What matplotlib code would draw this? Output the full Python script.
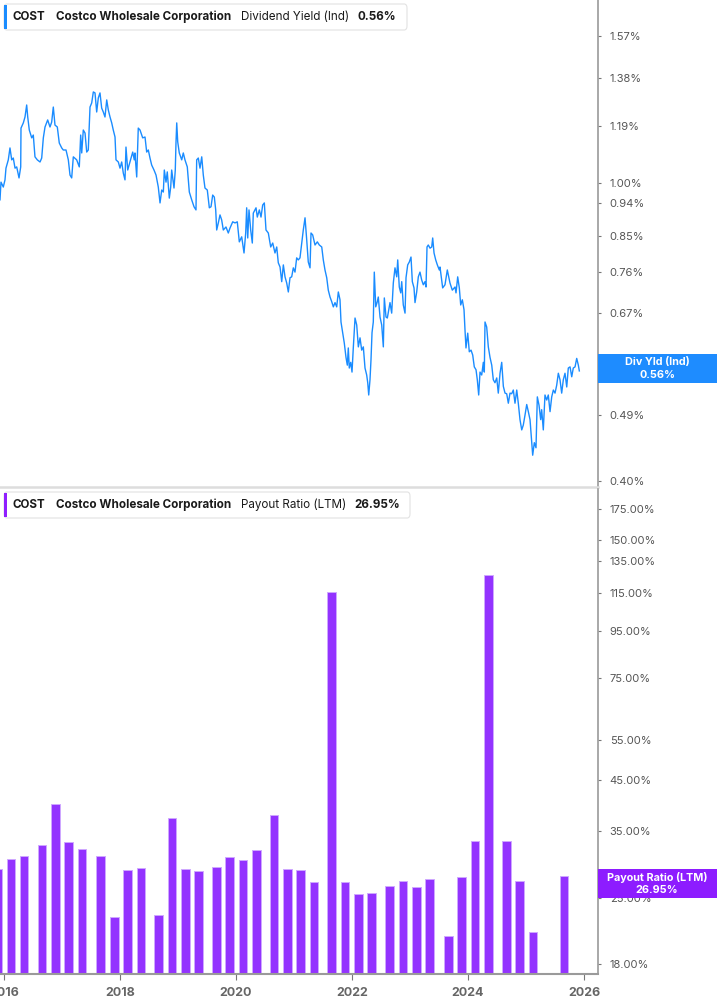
import matplotlib
matplotlib.use("Agg")
import matplotlib.pyplot as plt
from matplotlib.patches import FancyBboxPatch, Rectangle
from matplotlib.ticker import FixedLocator, NullLocator, FuncFormatter

plt.rcParams['font.family'] = ['Inter', 'DejaVu Sans']

# ---------------- data ----------------
ticker = "COST"
company = "Costco Wholesale Corporation"
yield_name = "Dividend Yield (Ind)"
yield_last = "0.56%"
payout_name = "Payout Ratio (LTM)"
payout_last = "26.95%"

# Dividend yield (%), dates as decimal years
yield_dates = [
    2015.931, 2015.948, 2015.988, 2016.017, 2016.034, 2016.074, 2016.103, 2016.133, 2016.160, 2016.190,
    2016.219, 2016.259, 2016.288, 2016.293, 2016.333, 2016.362, 2016.391, 2016.409, 2016.436, 2016.478,
    2016.505, 2016.534, 2016.574, 2016.621, 2016.650, 2016.678, 2016.707, 2016.753, 2016.793, 2016.822,
    2016.850, 2016.879, 2016.919, 2016.953, 2016.995, 2017.022, 2017.069, 2017.109, 2017.138, 2017.167,
    2017.195, 2017.253, 2017.298, 2017.322, 2017.340, 2017.367, 2017.397, 2017.426, 2017.453, 2017.483,
    2017.512, 2017.540, 2017.569, 2017.598, 2017.626, 2017.655, 2017.684, 2017.712, 2017.741, 2017.771,
    2017.798, 2017.828, 2017.857, 2017.884, 2017.914, 2017.931, 2017.971, 2018.000, 2018.029, 2018.057,
    2018.086, 2018.103, 2018.133, 2018.172, 2018.219, 2018.246, 2018.258, 2018.288, 2018.315, 2018.345,
    2018.391, 2018.431, 2018.460, 2018.488, 2018.517, 2018.546, 2018.586, 2018.621, 2018.660, 2018.690,
    2018.719, 2018.747, 2018.764, 2018.793, 2018.815, 2018.850, 2018.874, 2018.891, 2018.931, 2018.953,
    2018.965, 2018.978, 2018.995, 2019.022, 2019.064, 2019.091, 2019.120, 2019.160, 2019.195, 2019.236,
    2019.276, 2019.310, 2019.322, 2019.350, 2019.379, 2019.409, 2019.436, 2019.465, 2019.505, 2019.540,
    2019.569, 2019.598, 2019.626, 2019.650, 2019.667, 2019.695, 2019.724, 2019.753, 2019.781, 2019.827,
    2019.867, 2019.896, 2019.943, 2019.983, 2020.022, 2020.057, 2020.098, 2020.138, 2020.167, 2020.184,
    2020.202, 2020.224, 2020.253, 2020.281, 2020.298, 2020.345, 2020.367, 2020.402, 2020.431, 2020.460,
    2020.488, 2020.517, 2020.557, 2020.598, 2020.633, 2020.672, 2020.702, 2020.729, 2020.759, 2020.788,
    2020.816, 2020.845, 2020.874, 2020.902, 2020.931, 2020.960, 2020.988, 2021.017, 2021.046, 2021.074,
    2021.103, 2021.160, 2021.190, 2021.219, 2021.246, 2021.276, 2021.293, 2021.322, 2021.362, 2021.402,
    2021.436, 2021.478, 2021.505, 2021.534, 2021.564, 2021.591, 2021.621, 2021.650, 2021.678, 2021.707,
    2021.736, 2021.764, 2021.793, 2021.810, 2021.840, 2021.867, 2021.896, 2021.919, 2021.936, 2021.953,
    2021.978, 2022.000, 2022.022, 2022.052, 2022.081, 2022.109, 2022.138, 2022.167, 2022.195, 2022.224,
    2022.253, 2022.271, 2022.288, 2022.310, 2022.327, 2022.345, 2022.367, 2022.384, 2022.409, 2022.436,
    2022.453, 2022.483, 2022.512, 2022.540, 2022.557, 2022.586, 2022.609, 2022.633, 2022.655, 2022.684,
    2022.712, 2022.741, 2022.771, 2022.788, 2022.815, 2022.840, 2022.857, 2022.884, 2022.914, 2022.931,
    2022.960, 2022.988, 2023.017, 2023.040, 2023.069, 2023.086, 2023.115, 2023.143, 2023.172, 2023.201,
    2023.229, 2023.258, 2023.276, 2023.293, 2023.315, 2023.345, 2023.374, 2023.391, 2023.414, 2023.443,
    2023.471, 2023.505, 2023.517, 2023.563, 2023.603, 2023.643, 2023.689, 2023.729, 2023.776, 2023.793,
    2023.822, 2023.850, 2023.874, 2023.902, 2023.931, 2023.948, 2023.965, 2023.995, 2024.022, 2024.052,
    2024.081, 2024.108, 2024.138, 2024.160, 2024.184, 2024.207, 2024.236, 2024.264, 2024.281, 2024.293,
    2024.322, 2024.350, 2024.379, 2024.409, 2024.436, 2024.465, 2024.495, 2024.522, 2024.552, 2024.581,
    2024.609, 2024.638, 2024.667, 2024.695, 2024.724, 2024.753, 2024.781, 2024.810, 2024.840, 2024.867,
    2024.896, 2024.926, 2024.953, 2024.983, 2025.012, 2025.040, 2025.069, 2025.086, 2025.115, 2025.143,
    2025.172, 2025.195, 2025.224, 2025.253, 2025.270, 2025.298, 2025.327, 2025.357, 2025.384, 2025.414,
    2025.443, 2025.471, 2025.500, 2025.529, 2025.557, 2025.586, 2025.615, 2025.643, 2025.672, 2025.702,
    2025.729, 2025.759, 2025.788, 2025.815, 2025.845, 2025.874, 2025.902, 2025.919,
]
yield_values = [
    0.949, 1.002, 0.987, 1.009, 1.046, 1.073, 1.113, 1.073, 1.079, 1.046,
    1.050, 1.015, 1.050, 1.183, 1.202, 1.224, 1.270, 1.224, 1.176, 1.148,
    1.158, 1.083, 1.073, 1.066, 1.079, 1.148, 1.187, 1.213, 1.187, 1.205,
    1.262, 1.194, 1.187, 1.130, 1.113, 1.106, 1.106, 1.073, 1.024, 1.015,
    1.083, 1.073, 1.050, 1.158, 1.096, 1.176, 1.165, 1.099, 1.106, 1.262,
    1.278, 1.322, 1.318, 1.243, 1.298, 1.318, 1.258, 1.243, 1.224, 1.290,
    1.251, 1.224, 1.202, 1.176, 1.151, 1.073, 1.066, 1.046, 1.066, 1.030,
    1.009, 1.116, 1.040, 1.066, 1.099, 1.073, 1.096, 1.018, 1.183, 1.176,
    1.148, 1.151, 1.099, 1.106, 1.079, 1.056, 1.040, 1.024, 0.987, 0.940,
    0.978, 0.972, 1.040, 1.002, 1.034, 0.954, 0.987, 1.040, 0.984, 1.040,
    1.130, 1.202, 1.134, 1.096, 1.073, 1.096, 1.073, 1.050, 0.972, 0.949,
    0.929, 0.920, 1.073, 1.079, 1.046, 1.083, 1.024, 0.984, 0.978, 0.926,
    0.929, 0.963, 0.957, 0.920, 0.865, 0.884, 0.906, 0.892, 0.865, 0.873,
    0.857, 0.870, 0.887, 0.884, 0.887, 0.834, 0.847, 0.806, 0.857, 0.926,
    0.844, 0.920, 0.865, 0.831, 0.911, 0.926, 0.900, 0.920, 0.900, 0.934,
    0.940, 0.865, 0.857, 0.821, 0.831, 0.806, 0.821, 0.782, 0.772, 0.738,
    0.777, 0.749, 0.735, 0.715, 0.747, 0.749, 0.770, 0.760, 0.794, 0.789,
    0.794, 0.865, 0.898, 0.839, 0.784, 0.770, 0.857, 0.852, 0.826, 0.834,
    0.826, 0.821, 0.789, 0.765, 0.747, 0.719, 0.704, 0.694, 0.683, 0.692,
    0.683, 0.715, 0.698, 0.652, 0.630, 0.611, 0.585, 0.571, 0.602, 0.566,
    0.576, 0.559, 0.602, 0.660, 0.646, 0.604, 0.621, 0.598, 0.604, 0.566,
    0.554, 0.541, 0.521, 0.546, 0.580, 0.631, 0.652, 0.760, 0.683, 0.694,
    0.704, 0.662, 0.646, 0.604, 0.702, 0.662, 0.660, 0.677, 0.692, 0.670,
    0.735, 0.770, 0.749, 0.789, 0.726, 0.713, 0.738, 0.687, 0.670, 0.747,
    0.777, 0.784, 0.796, 0.738, 0.724, 0.692, 0.715, 0.749, 0.760, 0.742,
    0.731, 0.738, 0.726, 0.821, 0.826, 0.818, 0.821, 0.844, 0.806, 0.789,
    0.777, 0.765, 0.772, 0.724, 0.731, 0.765, 0.735, 0.719, 0.726, 0.713,
    0.749, 0.724, 0.687, 0.698, 0.677, 0.636, 0.602, 0.630, 0.595, 0.598,
    0.589, 0.568, 0.563, 0.546, 0.521, 0.559, 0.554, 0.576, 0.559, 0.652,
    0.642, 0.604, 0.585, 0.571, 0.546, 0.541, 0.549, 0.524, 0.557, 0.576,
    0.535, 0.524, 0.523, 0.508, 0.524, 0.523, 0.529, 0.508, 0.529, 0.508,
    0.483, 0.468, 0.475, 0.490, 0.506, 0.495, 0.483, 0.464, 0.433, 0.450,
    0.443, 0.518, 0.505, 0.483, 0.498, 0.468, 0.521, 0.513, 0.521, 0.495,
    0.518, 0.529, 0.524, 0.537, 0.557, 0.546, 0.524, 0.546, 0.557, 0.534,
    0.566, 0.568, 0.551, 0.566, 0.568, 0.583, 0.571, 0.561,
]

# Payout ratio (LTM, %) at fiscal quarter ends (decimal years)
payout_dates = [
    2015.893, 2016.121, 2016.345, 2016.655, 2016.888, 2017.112, 2017.345, 2017.664,
    2017.905, 2018.129, 2018.362, 2018.664, 2018.897, 2019.129, 2019.353, 2019.664,
    2019.888, 2020.121, 2020.353, 2020.655, 2020.888, 2021.112, 2021.345, 2021.647,
    2021.879, 2022.112, 2022.336, 2022.647, 2022.879, 2023.112, 2023.336, 2023.664,
    2023.888, 2024.121, 2024.353, 2024.664, 2024.888, 2025.121, 2025.655,
]
payout_values = [
    27.9, 29.4, 29.9, 31.6, 38.9, 32.1, 31.0, 29.8,
    21.7, 27.7, 28.0, 21.9, 36.3, 27.9, 27.6, 28.2,
    29.6, 29.2, 30.7, 36.8, 27.9, 27.8, 26.1, 114.3,
    26.1, 24.5, 24.6, 25.5, 26.2, 25.4, 26.5, 19.7,
    26.8, 32.3, 125.1, 32.2, 26.2, 20.1, 26.95,
]

yield_ticks = [0.40, 0.49, 0.58, 0.67, 0.76, 0.85, 0.94, 1.00, 1.19, 1.38, 1.57]
payout_ticks = [18, 25, 35, 45, 55, 75, 95, 115, 135, 150, 175]
year_ticks = [2016, 2018, 2020, 2022, 2024, 2026]

# ---------------- style ----------------
W, H = 717, 1005
BLUE = '#1a8cff'
PURPLE = '#9333ff'
AXIS = '#9a9a9a'
TXT = '#555555'

fig = plt.figure(figsize=(W / 100, H / 100), dpi=100)
fig.patch.set_facecolor('white')


def fy(py):
    return 1 - py / H


ax1 = fig.add_axes([0, fy(487), 598 / W, 487 / H])
ax2 = fig.add_axes([0, fy(974), 598 / W, (974 - 489) / H])

xmin, xmax = 2015.931, 2026.241
for ax in (ax1, ax2):
    ax.set_xlim(xmin, xmax)
    ax.set_yscale('log')
    ax.set_facecolor('none')
    ax.spines['top'].set_visible(False)
    ax.spines['left'].set_visible(False)
    ax.spines['right'].set_color(AXIS)
    ax.spines['right'].set_linewidth(1.2)
    ax.yaxis.tick_right()
    ax.yaxis.set_minor_locator(NullLocator())
    ax.tick_params(axis='y', which='major', direction='out', length=2.5, width=0.8,
                   color='#777777', labelcolor=TXT, labelsize=8, pad=6)

# top panel: dividend yield line
ax1.plot(yield_dates, yield_values, color=BLUE, lw=1.0, solid_joinstyle='round')
ax1.set_ylim(0.3927, 1.7535)
ax1.yaxis.set_major_locator(FixedLocator(yield_ticks))
ax1.yaxis.set_major_formatter(FuncFormatter(lambda v, p: f"{v:.2f}%"))
ax1.spines['bottom'].set_color('#dddddd')
ax1.spines['bottom'].set_linewidth(1.8)
ax1.set_xticks([])

# bottom panel: payout ratio bars
ax2.bar(payout_dates, payout_values, width=0.15, bottom=1, color=PURPLE,
        edgecolor='#cfa8ff', linewidth=0.7, zorder=2)
ax2.set_ylim(17.08, 193.5)
ax2.yaxis.set_major_locator(FixedLocator(payout_ticks))
ax2.yaxis.set_major_formatter(FuncFormatter(lambda v, p: f"{v:.2f}%"))
ax2.spines['bottom'].set_color(AXIS)
ax2.spines['bottom'].set_linewidth(1.5)
ax2.set_xticks(year_ticks)
ax2.set_xticklabels([str(y) for y in year_ticks])
ax2.tick_params(axis='x', direction='out', length=4, width=0.8, color='#777777',
                labelcolor='#666666', labelsize=9, pad=5)
for lbl in ax2.get_xticklabels():
    lbl.set_fontweight('bold')


# header boxes
def header(top, bottom, right, color, metric, value, metric_x, value_x):
    box = FancyBboxPatch((4 / W, fy(bottom)), (right - 4) / W, (bottom - top) / H,
                         boxstyle="round,pad=0,rounding_size=0.004",
                         transform=fig.transFigure, facecolor='white',
                         edgecolor='#e2e2e2', linewidth=0.8, zorder=5)
    fig.patches.append(box)
    fig.patches.append(Rectangle((4 / W, fy(bottom - 1)), 3 / W, (bottom - top - 2) / H,
                                 transform=fig.transFigure, facecolor=color,
                                 edgecolor='none', zorder=6))
    yc = fy((top + bottom) / 2)
    kw = dict(va='center', ha='left', fontsize=8.4, color='#1a1a1a', zorder=7)
    fig.text(13 / W, yc, ticker, fontweight='bold', **kw)
    fig.text(56 / W, yc, company, fontweight='bold', **kw)
    fig.text(metric_x / W, yc, metric, fontweight='normal', **kw)
    fig.text(value_x / W, yc, value, fontweight='bold', **kw)


header(4, 30, 407, BLUE, yield_name, yield_last, 241, 358)
header(492, 518, 410, '#8f1fff', payout_name, payout_last, 241, 354)


# right-side value badges
def badge(ax, value, color, line1, line2):
    fig.canvas.draw()
    ypix = ax.transData.transform((xmin, value))[1]
    h = 29
    fig.patches.append(Rectangle((598 / W, (ypix - h / 2) / H), (W - 598) / W, h / H,
                                 transform=fig.transFigure, facecolor=color,
                                 edgecolor='none', zorder=8))
    fig.text(657 / W, (ypix + 6.5) / H, line1, ha='center', va='center', color='white',
             fontsize=7.8, fontweight='bold', zorder=9)
    fig.text(657 / W, (ypix - 6) / H, line2, ha='center', va='center', color='white',
             fontsize=7.8, fontweight='bold', zorder=9)


badge(ax1, 0.565, '#1e8cff', 'Div Yld (Ind)', yield_last)
badge(ax2, 26.8, '#8d1cff', payout_name, payout_last)

fig.savefig('out.png', dpi=100, facecolor='white')
